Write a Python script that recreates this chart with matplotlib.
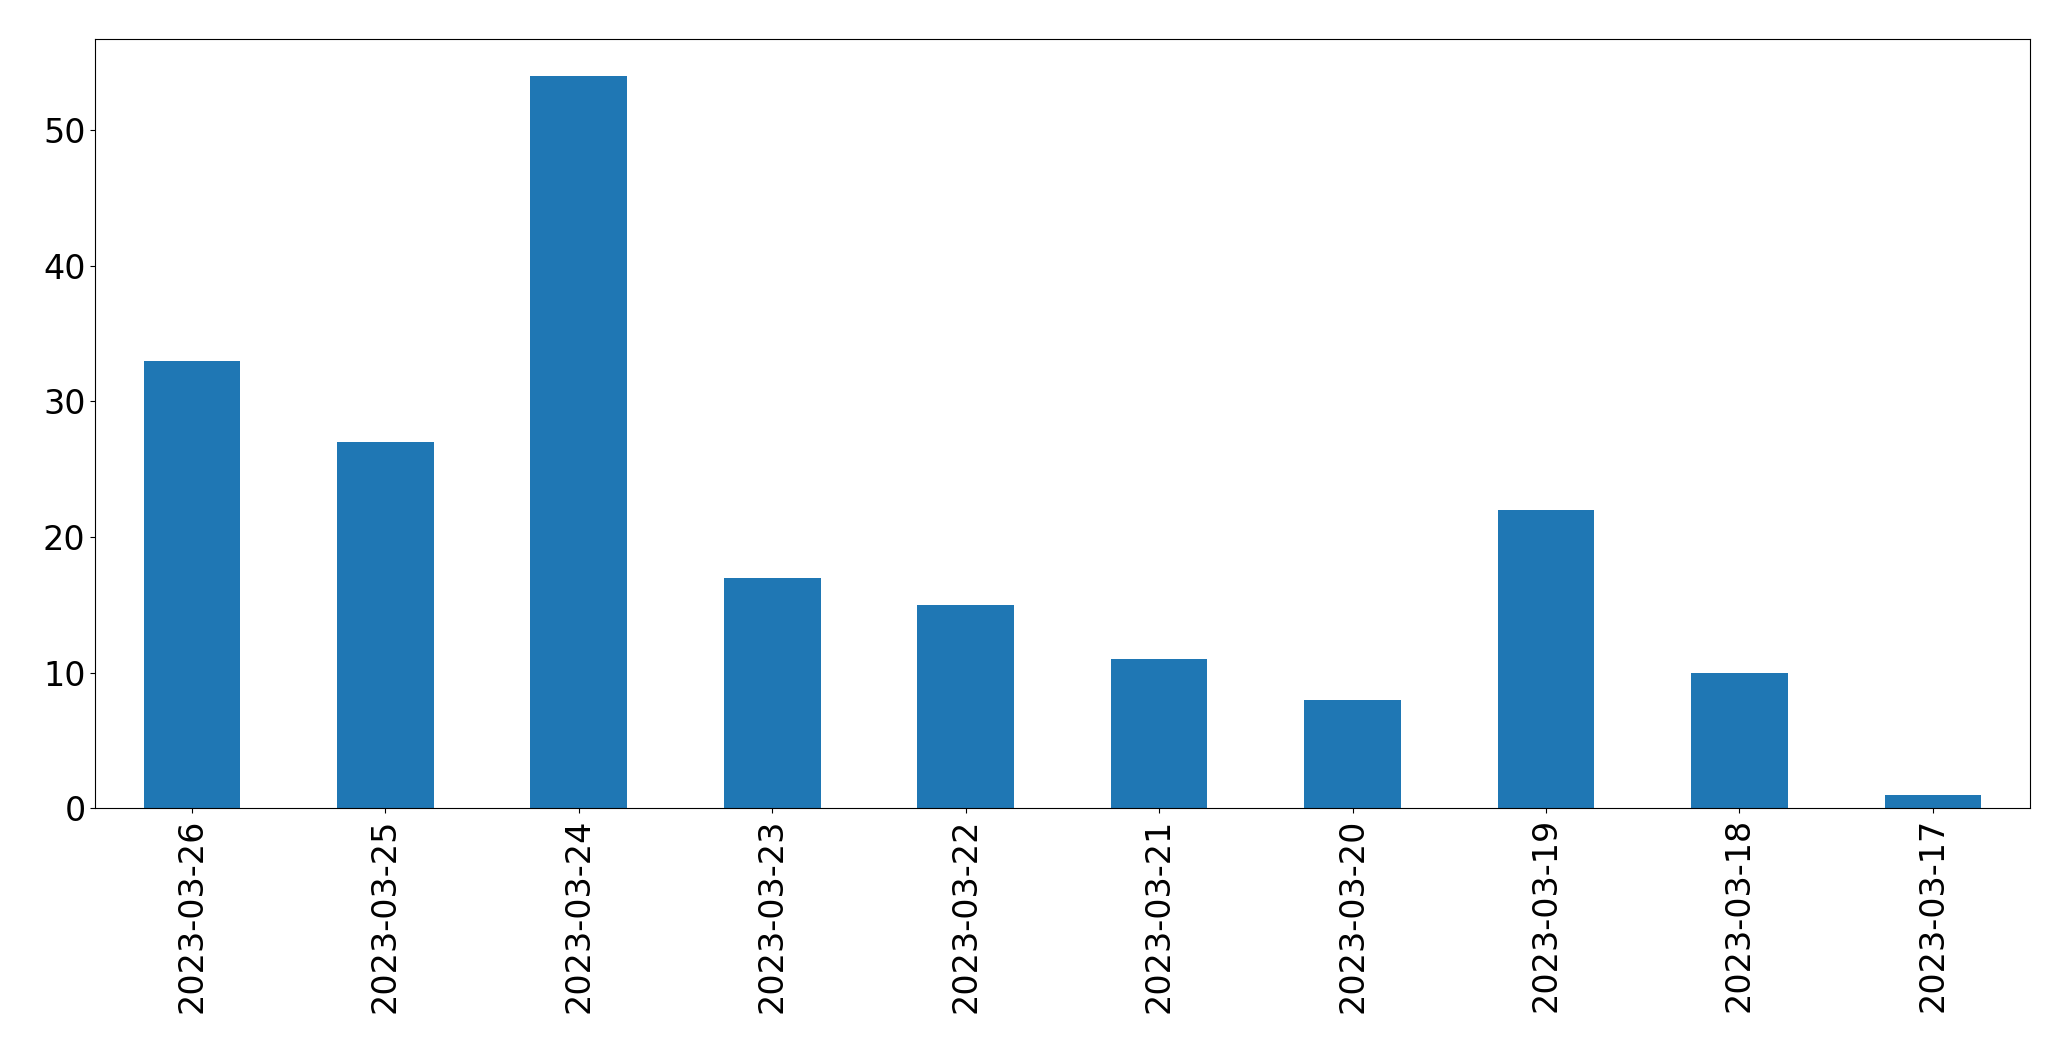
import matplotlib
matplotlib.use("Agg")
import matplotlib.pyplot as plt

dates = ["2023-03-26","2023-03-25","2023-03-24","2023-03-23","2023-03-22",
         "2023-03-21","2023-03-20","2023-03-19","2023-03-18","2023-03-17"]
counts = [33, 27, 54, 17, 15, 11, 8, 22, 10, 1]

fig = plt.figure(figsize=(20.71, 10.61), dpi=100)
ax = fig.add_axes([0.046, 0.238, 0.934, 0.725])
x = list(range(len(dates)))
ax.bar(x, counts, width=0.5, color="#1f77b4")
ax.set_xlim(-0.5, len(dates) - 0.5)
ax.set_xticks(x)
ax.set_xticklabels(dates, rotation=90)
ax.tick_params(labelsize=24)
fig.savefig("out.png", dpi=100)
